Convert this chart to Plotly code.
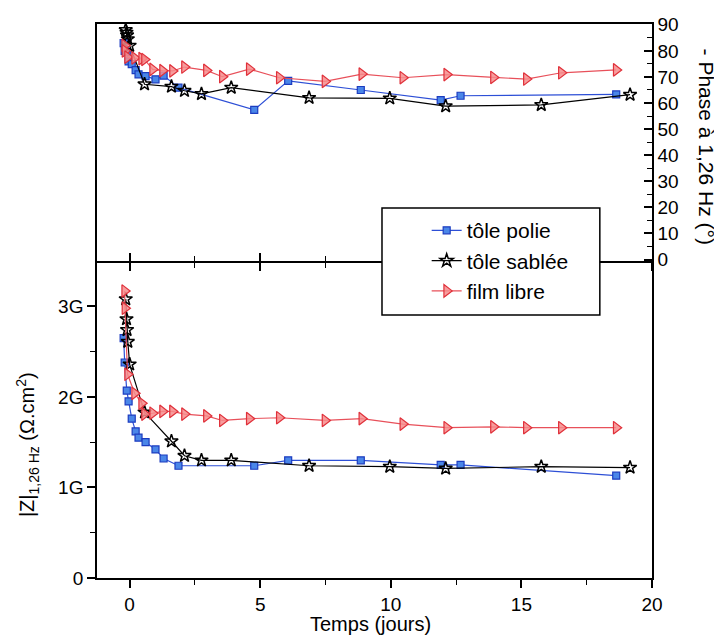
import plotly.graph_objects as go

# ---- data (time in days, |Z| in G ohm.cm2, phase in degrees) ----
t_polie = [-0.23, -0.19, -0.11, -0.04, 0.08, 0.23, 0.34, 0.61, 0.99, 1.30, 1.87, 4.77, 6.07, 8.85, 11.91, 12.67, 18.63]
z_polie = [2.65, 2.38, 2.07, 1.95, 1.76, 1.62, 1.55, 1.50, 1.42, 1.32, 1.24, 1.24, 1.30, 1.30, 1.25, 1.25, 1.13]
ph_polie = [83.0, 80.0, 79.4, 76.0, 74.9, 72.6, 71.0, 70.3, 69.1, 70.5, 65.9, 57.4, 68.5, 65.0, 61.1, 62.8, 63.3]

t_sablee = [-0.15, -0.12, -0.10, -0.07, 0.00, 0.57, 1.60, 2.10, 2.75, 3.89, 6.87, 9.96, 12.10, 15.76, 19.16]
z_sablee = [3.08, 2.86, 2.74, 2.61, 2.36, 1.83, 1.51, 1.35, 1.30, 1.30, 1.24, 1.23, 1.21, 1.23, 1.22]
ph_sablee = [88.0, 87.0, 86.0, 84.5, 82.0, 67.2, 66.3, 64.7, 63.5, 65.9, 62.0, 61.8, 58.8, 59.3, 63.2]

t_libre = [-0.19, -0.18, -0.08, 0.19, 0.46, 0.57, 0.88, 1.26, 1.64, 2.10, 2.94, 3.55, 4.58, 5.73, 7.48, 8.89, 10.46, 12.14, 13.93, 15.19, 16.53, 18.63]
z_libre = [3.17, 2.98, 2.25, 2.04, 1.93, 1.81, 1.82, 1.84, 1.84, 1.81, 1.79, 1.74, 1.76, 1.77, 1.74, 1.76, 1.70, 1.66, 1.67, 1.66, 1.66, 1.66]
ph_libre = [82.1, 80.0, 77.6, 77.3, 77.0, 76.7, 72.9, 72.4, 72.3, 73.8, 72.5, 70.1, 73.0, 69.7, 68.3, 71.1, 69.7, 70.9, 69.8, 69.2, 71.6, 72.7]

x_ticks = [0, 5, 10, 15, 20]
x_minor = [2.5, 7.5, 12.5, 17.5]
z_tickvals = [0, 1e9, 2e9, 3e9]
z_ticktext = ["0", "1G", "2G", "3G"]
z_minor = [0.5e9, 1.5e9, 2.5e9]

G = 1e9
FONT = "Liberation Sans, Arial, sans-serif"

series = [
    ("tôle polie", t_polie, z_polie, ph_polie,
     dict(symbol="square", size=7, color="#4a86e8", line=dict(color="#1c3cc0", width=1.2)),
     dict(color="#2d4fd6", width=1.2)),
    ("tôle sablée", t_sablee, z_sablee, ph_sablee,
     dict(symbol="star-open", size=10, color="black", line=dict(color="black", width=1.5)),
     dict(color="black", width=1.2)),
    ("film libre", t_libre, z_libre, ph_libre,
     dict(symbol="triangle-right", size=11, color="rgba(246,140,140,0.85)", line=dict(color="#e0303a", width=1.2)),
     dict(color="#e8505a", width=1.2)),
]

fig = go.Figure()
for name, t, z, ph, mk, ln in series:
    fig.add_trace(go.Scatter(x=t, y=[v * G for v in z], mode="lines+markers", name=name,
                             marker=mk, line=ln, xaxis="x", yaxis="y", legendgroup=name))
    fig.add_trace(go.Scatter(x=t, y=ph, mode="lines+markers", name=name,
                             marker=mk, line=ln, xaxis="x2", yaxis="y2", legendgroup=name,
                             showlegend=False))
fig.add_trace(go.Scatter(x=[None], y=[None], xaxis="x3", yaxis="y2", showlegend=False,
                         hoverinfo="skip"))

split = 0.572
axis_common = dict(showgrid=False, zeroline=False, automargin=False,
                   tickcolor="black", tickwidth=1.5, linecolor="black", linewidth=1.5,
                   tickfont=dict(family=FONT, size=19, color="black"))
minor_x = dict(tickvals=x_minor, ticklen=5, tickwidth=1.3, tickcolor="black")

fig.update_layout(
    width=714, height=629,
    margin=dict(l=89, r=70, t=16, b=59, autoexpand=False),
    paper_bgcolor="white", plot_bgcolor="white",
    font=dict(family=FONT, color="black"),
    xaxis=dict(domain=[0, 1], anchor="y", range=[-1.25, 20], tickvals=x_ticks,
               showline=True, mirror=False, ticks="outside", ticklen=8,
               minor=dict(ticks="outside", **minor_x), **axis_common),
    xaxis2=dict(domain=[0, 1], anchor="y2", matches="x", range=[-1.25, 20], tickvals=x_ticks,
                showticklabels=False, showline=True, mirror=True, ticks="outside", ticklen=8,
                minor=dict(ticks="outside", **minor_x), **axis_common),
    xaxis3=dict(domain=[0, 1], anchor="y2", overlaying="x2", matches="x", range=[-1.25, 20],
                tickvals=x_ticks, showticklabels=False, showline=False, ticks="inside", ticklen=8,
                minor=dict(ticks="inside", **minor_x), **axis_common),
    yaxis=dict(domain=[0, split], anchor="x", range=[0, 3.5e9], tickvals=z_tickvals,
               ticktext=z_ticktext, showline=True, ticks="outside", ticklen=8, mirror=True,
               minor=dict(tickvals=z_minor, ticks="outside", ticklen=5, tickwidth=1.3, tickcolor="black"),
               **axis_common),
    yaxis2=dict(domain=[split, 1], anchor="x2", side="right", range=[-0.6, 90.3],
                tick0=0, dtick=10, showline=True, ticks="inside", ticklen=8, mirror=True,
                minor=dict(dtick=5, tick0=0, ticks="inside", ticklen=5, tickwidth=1.3, tickcolor="black"),
                **axis_common),
    showlegend=True,
    legend=dict(x=0.594, y=0.664, xanchor="left", yanchor="top", bgcolor="rgba(0,0,0,0)",
                borderwidth=0, font=dict(family=FONT, size=21, color="black"), itemwidth=30,
                tracegroupgap=0),
    shapes=[dict(type="rect", xref="paper", yref="paper", x0=0.5135, x1=0.906, y0=0.4747, y1=0.668,
                 line=dict(color="black", width=1.5), fillcolor="white", layer="above")],
    annotations=[
        dict(text="Temps (jours)", xref="paper", yref="paper", x=0.492, y=-0.083,
             xanchor="center", yanchor="middle",
             showarrow=False, font=dict(family=FONT, size=20, color="black")),
        dict(text="|Z|<sub>1,26 Hz</sub> (Ω.cm<sup>2</sup>)", xref="paper", yref="paper",
             x=-0.126, y=0.24, xanchor="center", yanchor="middle", textangle=-90, showarrow=False,
             font=dict(family=FONT, size=20, color="black")),
        dict(text="- Phase à 1,26 Hz (°)", xref="paper", yref="paper", x=1.098, y=0.778,
             xanchor="center", yanchor="middle",
             textangle=90, showarrow=False, font=dict(family=FONT, size=21, color="black")),
    ],
)

fig.write_html("out.html")
